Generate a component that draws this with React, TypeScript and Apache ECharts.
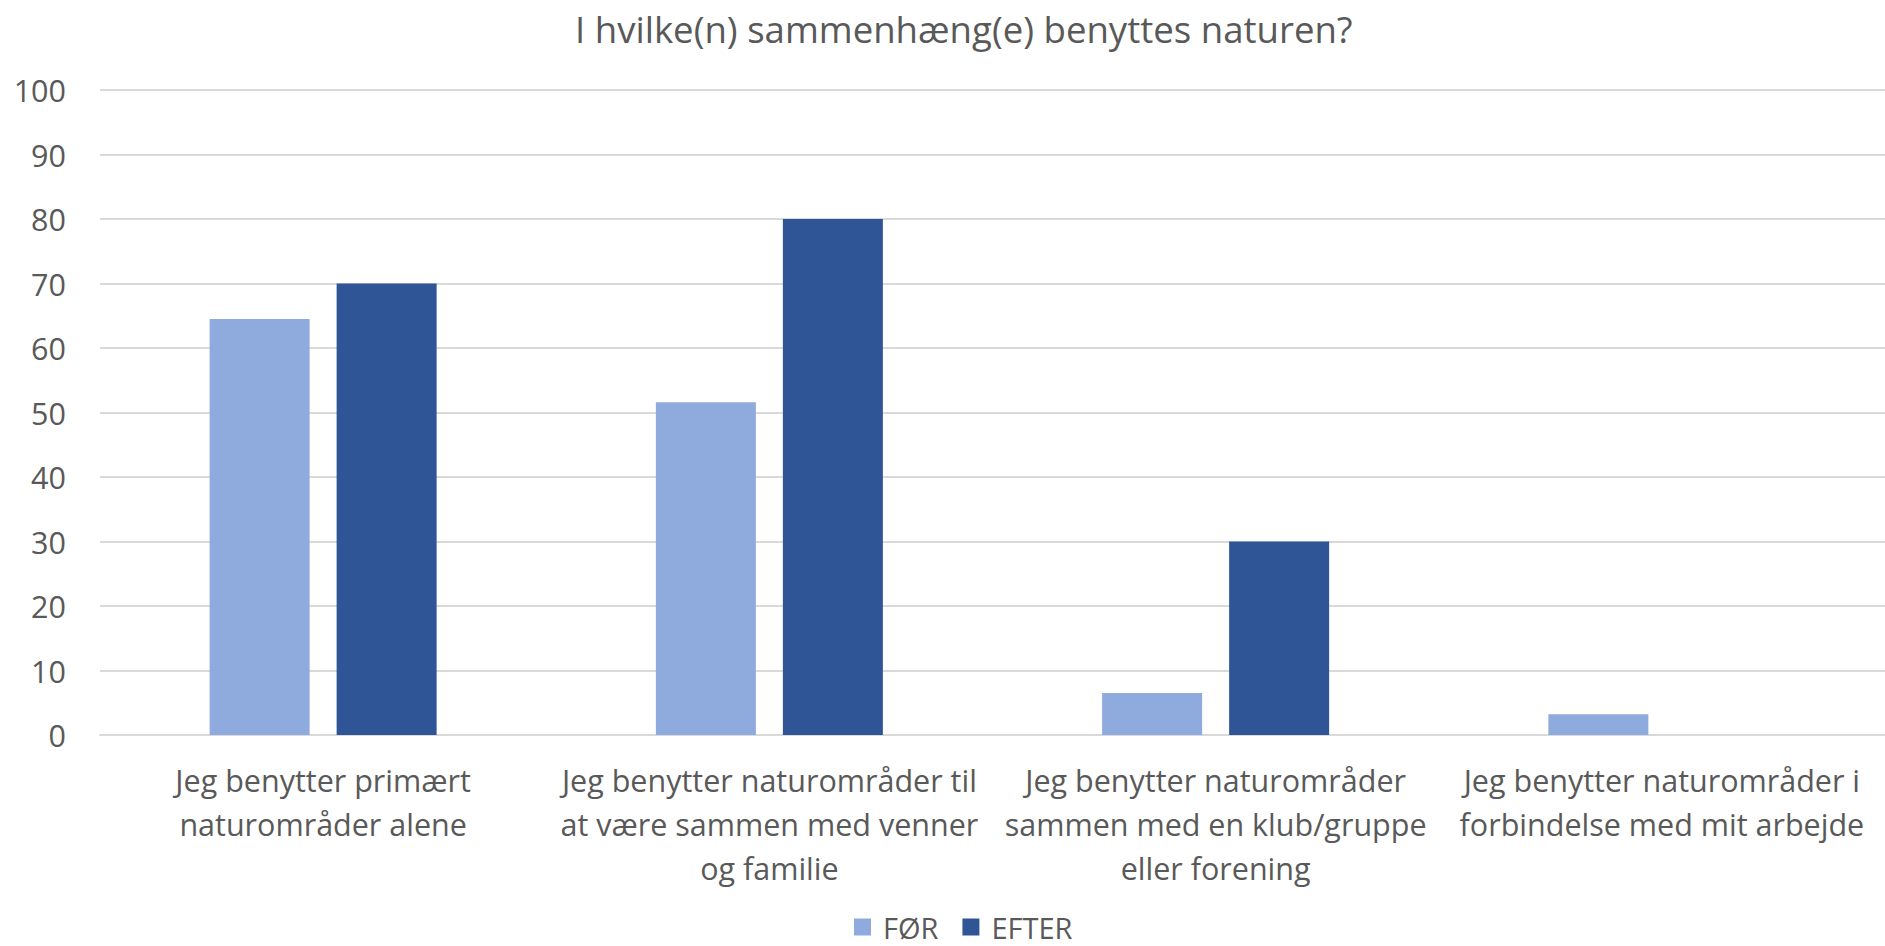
import React, { useEffect, useRef } from "react";
import * as echarts from "echarts";

const title = "I hvilke(n) sammenhæng(e) benyttes naturen?";
const categories = [
  "Jeg benytter primært\nnaturområder alene",
  "Jeg benytter naturområder til\nat være sammen med venner\nog familie",
  "Jeg benytter naturområder\nsammen med en klub/gruppe\neller forening",
  "Jeg benytter naturområder i\nforbindelse med mit arbejde",
];
const seriesNames = ["FØR", "EFTER"];
const forValues = [64.5, 51.6, 6.5, 3.2];
const efterValues = [70, 80, 30, 0];
const yTicks = { min: 0, max: 100, interval: 10 };

const FONT = "'Open Sans', 'Noto Sans', sans-serif";
const TEXT = "#595959";

export default function App() {
  const ref = useRef<HTMLDivElement>(null);
  useEffect(() => {
    if (!ref.current) return;
    const chart = echarts.init(ref.current, null, { renderer: "svg" });
    chart.setOption({
      animation: false,
      backgroundColor: "#ffffff",
      textStyle: { fontFamily: FONT, color: TEXT },
      title: {
        text: title,
        left: 570,
        top: 5,
        textStyle: { fontFamily: FONT, fontSize: 36.6, fontWeight: "normal", color: TEXT },
      },
      legend: {
        top: 912,
        left: 854,
        padding: 0,
        itemWidth: 17,
        itemHeight: 17,
        itemGap: 24,
        icon: "rect",
        textStyle: {
          fontFamily: FONT,
          fontSize: 29,
          lineHeight: 30,
          color: TEXT,
          padding: [0, 0, 0, 7],
        },
        data: seriesNames,
      },
      grid: { left: 100, width: 1793, top: 90, bottom: 211, containLabel: false },
      xAxis: {
        type: "category",
        data: categories,
        axisLine: { lineStyle: { color: "#D9D9D9", width: 2 } },
        axisTick: { show: false },
        axisLabel: {
          fontFamily: FONT,
          fontSize: 30.5,
          color: TEXT,
          lineHeight: 44,
          margin: 23,
          interval: 0,
        },
      },
      yAxis: {
        type: "value",
        min: yTicks.min,
        max: yTicks.max,
        interval: yTicks.interval,
        axisLine: { show: false },
        axisTick: { show: false },
        splitLine: { lineStyle: { color: "#D9D9D9", width: 2 } },
        axisLabel: { fontFamily: FONT, fontSize: 30.5, color: TEXT, margin: 34 },
      },
      series: [
        {
          name: seriesNames[0],
          type: "bar",
          data: forValues,
          barWidth: 100,
          barGap: "27%",
          itemStyle: { color: "#8FAADC" },
        },
        {
          name: seriesNames[1],
          type: "bar",
          data: efterValues,
          barWidth: 100,
          itemStyle: { color: "#2F5597" },
        },
      ],
    });
    return () => chart.dispose();
  }, []);
  return (
    <div
      ref={ref}
      style={{ position: "fixed", left: 0, top: 0, width: 1885, height: 946 }}
    />
  );
}
